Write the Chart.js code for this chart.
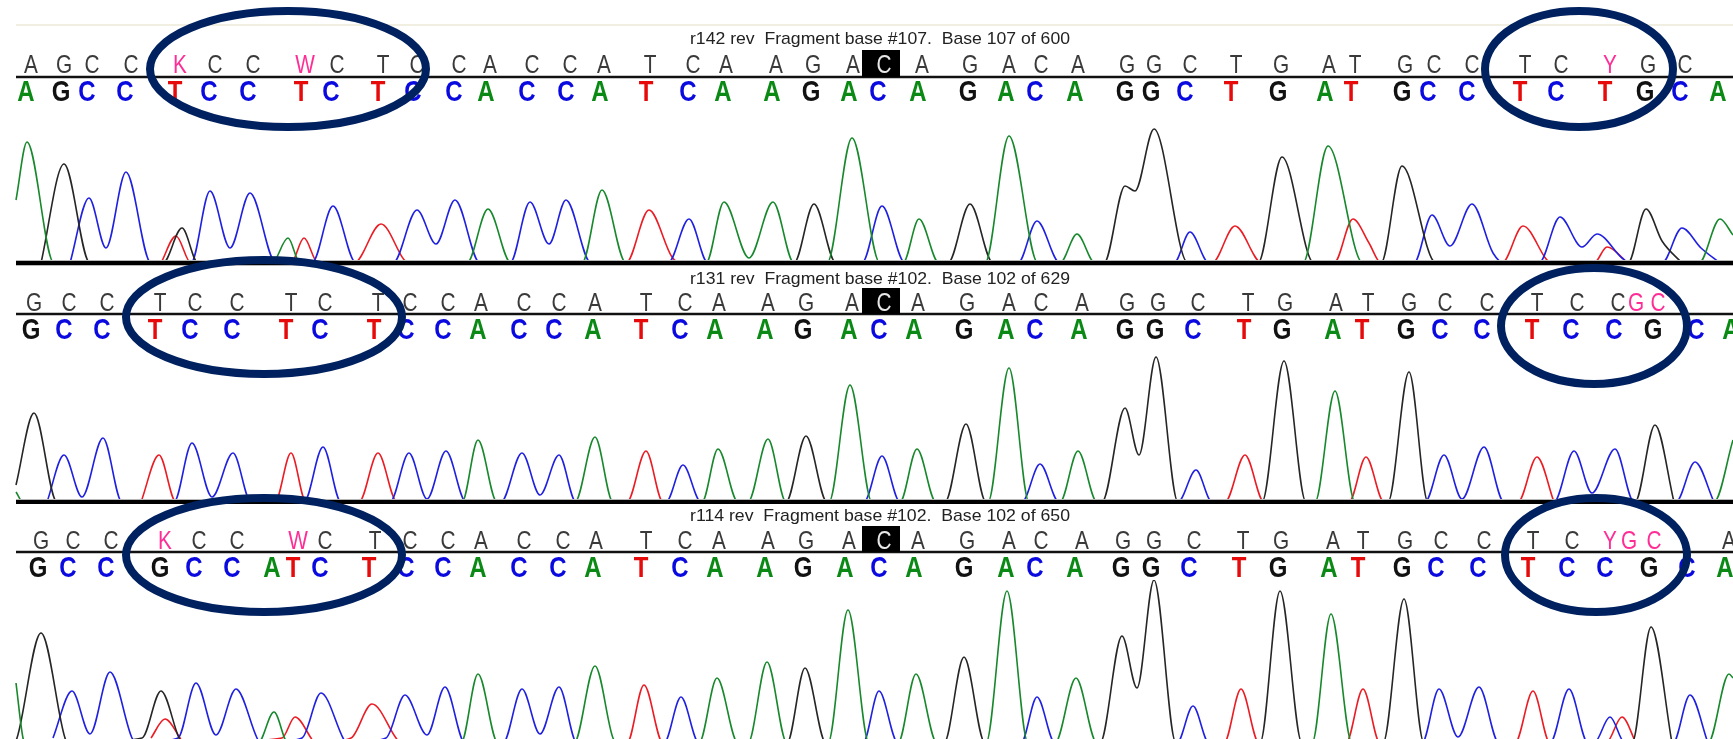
<!DOCTYPE html>
<html>
<head>
<meta charset="utf-8">
<title>Chromatograms</title>
<script src="https://cdn.jsdelivr.net/npm/chart.js@4"></script>
<style>
  html, body { margin: 0; padding: 0; background: #fff; overflow: hidden; }
  canvas { display: block; filter: blur(0.45px); }
</style>
</head>
<body>
<canvas id="traces" width="1733" height="739"></canvas>
<script>
// TRACE DATA: [scan position, signal] for each base -------------------------------

const r142A = [[16,63],[27,121],[54,0],[272,0],[288,25],[300,0],[467,0],[488,54],[511,0],[582,0],[602,73],[626,0],[706,0],[724,61],[749,5],[773,61],[794,0],[827,0],[852,125],[880,0],[903,0],[919,44],[939,0],[985,0],[1009,127],[1038,0],[1060,0],[1077,29],[1095,0],[1303,0],[1328,117],[1363,0],[1699,0],[1720,44],[1733,28]];
const r142G = [[41,0],[64,99],[90,0],[163,0],[182,35],[198,0],[794,0],[814,59],[836,0],[948,0],[970,59],[993,0],[1104,0],[1125,77],[1135,72],[1154,134],[1188,0],[1258,0],[1282,106],[1314,0],[1381,0],[1402,97],[1436,0],[1628,0],[1646,54],[1662,22],[1682,0]];
const r142C = [[70,0],[89,65],[106,15],[126,91],[151,0],[191,0],[210,72],[230,15],[250,70],[276,0],[312,0],[333,57],[356,0],[393,0],[417,53],[436,19],[455,63],[480,0],[510,0],[530,61],[549,19],[566,63],[591,0],[668,0],[689,44],[708,0],[862,0],[882,57],[905,0],[1018,0],[1037,42],[1060,0],[1174,0],[1190,31],[1209,0],[1414,0],[1432,48],[1450,17],[1472,59],[1493,10],[1504,0],[1539,0],[1560,46],[1582,16],[1597,29],[1622,5],[1630,0],[1662,0],[1682,35],[1701,15],[1720,0]];
const r142T = [[161,0],[176,27],[191,0],[291,0],[304,25],[318,0],[354,0],[381,39],[409,0],[626,0],[649,53],[672,6],[680,0],[1212,0],[1235,37],[1262,0],[1334,0],[1353,44],[1369,20],[1381,0],[1502,0],[1523,37],[1552,0],[1594,0],[1607,16],[1628,0]];

const r131A = [[16,10],[23,0],[462,0],[478,62],[497,0],[575,0],[595,65],[613,0],[702,0],[718,53],[738,0],[748,0],[768,63],[786,0],[829,0],[850,117],[872,0],[900,0],[917,53],[936,0],[988,0],[1009,134],[1029,0],[1060,0],[1078,51],[1097,0],[1315,0],[1335,111],[1355,0],[1714,0],[1733,62]];
const r131G = [[16,17],[34,89],[57,0],[786,0],[806,66],[827,0],[945,0],[966,78],[986,0],[1102,0],[1125,94],[1139,47],[1156,145],[1178,0],[1262,0],[1284,141],[1306,0],[1388,0],[1409,130],[1428,0],[1635,0],[1655,77],[1674,0]];
const r131C = [[47,0],[64,47],[82,5],[103,64],[122,0],[174,0],[192,59],[212,5],[233,49],[251,0],[304,0],[323,55],[341,0],[390,0],[409,49],[427,3],[446,51],[466,0],[501,0],[522,49],[540,7],[559,47],[576,0],[666,0],[683,37],[701,0],[864,0],[882,46],[900,0],[1022,0],[1040,38],[1059,0],[1178,0],[1196,32],[1212,0],[1425,0],[1444,47],[1462,3],[1484,55],[1504,0],[1554,0],[1574,51],[1592,9],[1615,53],[1634,0],[1676,0],[1695,40],[1714,0]];
const r131T = [[141,0],[159,47],[176,0],[275,0],[291,49],[306,0],[359,0],[378,49],[397,0],[627,0],[646,51],[663,0],[1225,0],[1245,47],[1264,0],[1349,0],[1366,45],[1384,0],[1518,0],[1537,45],[1554,0]];

const r114A = [[16,60],[23,5],[26,0],[258,0],[274,31],[288,0],[461,0],[478,69],[498,0],[574,0],[595,77],[613,5],[618,0],[699,0],[717,65],[738,0],[748,0],[767,81],[787,0],[828,0],[848,133],[869,0],[898,0],[916,69],[937,0],[986,0],[1007,152],[1028,0],[1055,0],[1076,65],[1097,0],[1312,0],[1331,129],[1352,0],[1708,0],[1729,69],[1733,65]];
const r114G = [[14,0],[17,5],[41,110],[65,5],[68,0],[142,5],[161,52],[179,5],[182,0],[787,0],[805,75],[826,0],[944,0],[964,86],[985,0],[1100,0],[1122,107],[1137,55],[1154,163],[1176,0],[1260,0],[1280,152],[1302,0],[1383,0],[1404,144],[1424,0],[1632,0],[1651,116],[1672,0]];
const r114C = [[53,5],[72,52],[90,9],[110,71],[132,5],[136,0],[178,5],[196,60],[216,8],[236,54],[257,5],[260,0],[302,5],[321,50],[343,5],[346,0],[386,5],[405,48],[427,8],[445,56],[465,0],[503,0],[522,54],[540,9],[559,56],[577,0],[664,0],[681,46],[699,0],[863,0],[879,52],[898,0],[1021,0],[1037,46],[1055,0],[1177,0],[1193,37],[1209,0],[1422,0],[1439,54],[1458,6],[1479,56],[1499,0],[1550,0],[1569,54],[1588,0],[1594,0],[1610,26],[1625,0],[1673,0],[1690,48],[1708,0]];
const r114T = [[151,5],[165,24],[180,5],[183,0],[282,5],[295,26],[311,5],[314,0],[351,5],[372,39],[396,5],[400,0],[627,0],[644,58],[663,0],[1224,0],[1241,54],[1259,0],[1346,0],[1363,54],[1380,0],[1515,0],[1533,52],[1550,0],[1606,0],[1622,26],[1636,0]];

// BASE CALLS: letters and their scan position. Lower case = edited call (pink) ---

const r142TopCalls = ["A","G","C","C","k","C","C","w","C","T","C","C","A","C","C","A","T","C","A","A","G","A","C","A","G","A","C","A","G","G","C","T","G","A","T","G","C","C","T","C","y","G","C"];
const r142TopX = [31,64,92,131,180,215,253,305,337,383,417,459,490,532,570,604,650,693,726,776,813,853,884,922,970,1009,1041,1078,1127,1154,1190,1236,1281,1329,1355,1405,1434,1472,1525,1561,1610,1648,1685];
const r142BottomCalls = ["A","G","C","C","T","C","C","T","C","T","C","C","A","C","C","A","T","C","A","A","G","A","C","A","G","A","C","A","G","G","C","T","G","A","T","G","C","C","T","C","T","G","C","A"];
const r142BottomX = [26,61,87,125,175,209,248,301,331,378,413,454,486,527,566,600,646,688,723,772,811,849,878,918,968,1006,1035,1075,1125,1151,1185,1231,1278,1325,1351,1402,1428,1467,1520,1556,1605,1645,1680,1718];

const r131TopCalls = ["G","C","C","T","C","C","T","C","T","C","C","A","C","C","A","T","C","A","A","G","A","C","A","G","A","C","A","G","G","C","T","G","A","T","G","C","C","T","C","C","g","c","A"];
const r131TopX = [34,69,107,160,195,237,291,325,378,410,448,481,524,559,595,646,685,719,768,806,852,884,918,967,1009,1041,1082,1127,1158,1198,1248,1285,1336,1368,1409,1445,1487,1537,1577,1618,1636,1658,1741];
const r131BottomCalls = ["G","C","C","T","C","C","T","C","T","C","C","A","C","C","A","T","C","A","A","G","A","C","A","G","A","C","A","G","G","C","T","G","A","T","G","C","C","T","C","C","G","C","A"];
const r131BottomX = [31,64,102,155,190,232,286,320,374,406,443,478,519,554,593,641,680,715,765,803,849,879,914,964,1006,1035,1079,1125,1155,1193,1244,1282,1333,1362,1406,1440,1482,1532,1571,1614,1653,1696,1731];

const r114TopCalls = ["G","C","C","k","C","C","w","C","T","C","C","A","C","C","A","T","C","A","A","G","A","C","A","G","A","C","A","G","G","C","T","G","A","T","G","C","C","T","C","y","g","c","A"];
const r114TopX = [41,73,111,165,199,237,298,325,375,410,448,481,524,563,596,646,685,719,768,806,849,884,918,967,1009,1041,1082,1123,1154,1194,1243,1281,1333,1363,1405,1441,1484,1533,1572,1610,1629,1654,1729];
const r114BottomCalls = ["G","C","C","G","C","C","A","T","C","T","C","C","A","C","C","A","T","C","A","A","G","A","C","A","G","A","C","A","G","G","C","T","G","A","T","G","C","C","T","C","C","G","C","A"];
const r114BottomX = [38,68,106,160,194,232,272,293,320,369,406,443,478,519,558,593,641,680,715,765,803,845,879,914,964,1006,1035,1075,1121,1151,1189,1239,1278,1329,1358,1402,1436,1478,1528,1567,1605,1649,1687,1725];

const titles = [
  "r142 rev  Fragment base #107.  Base 107 of 600",
  "r131 rev  Fragment base #102.  Base 102 of 629",
  "r114 rev  Fragment base #102.  Base 102 of 650",
];

// COLOURS / LAYOUT ---------------------------------------------------------------

const traceColors = { A: "#17882c", G: "#262626", C: "#2020e0", T: "#ea1c24" };
const callColors = { A: "#0a8a14", G: "#111111", C: "#0a0ae0", T: "#e60a0a" };
const pink = "#ff2d96";
const navy = "#00215f";

const panels = [
  { axis: "y1", base: 263, titleY: 44, topY: 73, lineY: 77, bottomY: 101, boxTop: 50,
    traces: { A: r142A, G: r142G, C: r142C, T: r142T },
    top: [r142TopCalls, r142TopX], bottom: [r142BottomCalls, r142BottomX], boxX: 884 },
  { axis: "y2", base: 502, titleY: 284, topY: 311, lineY: 314, bottomY: 339, boxTop: 288,
    traces: { A: r131A, G: r131G, C: r131C, T: r131T },
    top: [r131TopCalls, r131TopX], bottom: [r131BottomCalls, r131BottomX], boxX: 884 },
  { axis: "y3", base: 743, titleY: 521, topY: 549, lineY: 552, bottomY: 577, boxTop: 526,
    traces: { A: r114A, G: r114G, C: r114C, T: r114T },
    top: [r114TopCalls, r114TopX], bottom: [r114BottomCalls, r114BottomX], boxX: 884 },
];

// circled regions: centre and radii in page pixels
const circles = [
  [288, 69, 138, 58], [1579, 69, 94, 58],
  [264, 317, 138, 57], [1594, 326, 93, 58],
  [264, 555, 138, 57], [1596, 555, 91, 57],
];

const pageHeight = 739;
let datasets = [];
let yScales = {};

panels.forEach((p) => {
  // one pixel per signal unit, with 0 sitting on this panel's baseline
  yScales[p.axis] = { display: false, min: p.base - pageHeight, max: p.base };
  Object.keys(p.traces).forEach((b) => {
    datasets.push({
      data: p.traces[b].map((d) => ({ x: d[0], y: d[1] })),
      yAxisID: p.axis,
      borderColor: traceColors[b],
      borderWidth: 1.6,
      pointRadius: 0,
      cubicInterpolationMode: "monotone",
      fill: false,
    });
  });
});

function drawLetter(ctx, text, x, y, sx) {
  ctx.save();
  ctx.translate(x, y);
  ctx.scale(sx, 1);
  ctx.fillText(text, 0, 0);
  ctx.restore();
}

// Draws the header rows, baselines and the circles round the traces
const sequencePlugin = {
  id: "sequence",
  afterDatasetsDraw(chart) {
    const ctx = chart.ctx;
    const xs = chart.scales.x;
    const right = xs.right;
    ctx.save();

    // pale rule at the very top
    ctx.fillStyle = "#f1efe2";
    ctx.fillRect(16, 24, right - 16, 2);

    panels.forEach((p, i) => {
      // the traces may not run up into the header
      ctx.fillStyle = "#fff";
      ctx.fillRect(0, p.lineY - 48, right, 76);

      // trace baseline
      ctx.fillStyle = "#b8b8b8";
      ctx.fillRect(16, p.base - 3, right - 16, 6);
      ctx.fillStyle = "#000";
      ctx.fillRect(16, p.base - 2, right - 16, 4);

      // divider between called and edited rows
      ctx.fillStyle = "#c4c4c4";
      ctx.fillRect(16, p.lineY - 2, right - 16, 4);
      ctx.fillStyle = "#111";
      ctx.fillRect(16, p.lineY - 1, right - 16, 2);

      // cursor box
      ctx.fillStyle = "#000";
      ctx.fillRect(xs.getPixelForValue(p.boxX - 22), p.boxTop, 38, p.lineY - p.boxTop);

      ctx.textAlign = "center";
      ctx.textBaseline = "alphabetic";

      // title
      ctx.font = "17px 'Liberation Sans'";
      ctx.fillStyle = "#222";
      const w = ctx.measureText(titles[i]).width;
      drawLetter(ctx, titles[i], 880, p.titleY, 380 / w);

      // top row
      ctx.font = "26px 'Liberation Sans'";
      p.top[0].forEach((c, n) => {
        const x = xs.getPixelForValue(p.top[1][n]);
        const edited = c !== c.toUpperCase();
        ctx.fillStyle = edited ? pink : "#3a3a3a";
        if (Math.abs(p.top[1][n] - p.boxX) < 4 && c === "C") ctx.fillStyle = "#e8e8e8";
        drawLetter(ctx, c.toUpperCase(), x, p.topY, 0.8);
      });

      // bottom row
      ctx.font = "bold 30px 'Liberation Sans'";
      p.bottom[0].forEach((c, n) => {
        ctx.fillStyle = callColors[c];
        drawLetter(ctx, c, xs.getPixelForValue(p.bottom[1][n]), p.bottomY, 0.8);
      });
    });

    ctx.strokeStyle = navy;
    ctx.lineWidth = 8;
    circles.forEach((c) => {
      ctx.beginPath();
      ctx.ellipse(c[0], c[1], c[2], c[3], 0, 0, Math.PI * 2);
      ctx.stroke();
    });
    ctx.restore();
  },
};

new Chart(document.querySelector("#traces"), {
  type: "line",
  data: { datasets: datasets },
  options: {
    responsive: false,
    animation: false,
    parsing: false,
    normalized: true,
    layout: { padding: 0 },
    events: [],
    scales: Object.assign({ x: { type: "linear", display: false, min: 0, max: 1733 } }, yScales),
    plugins: { legend: { display: false }, tooltip: { enabled: false } },
  },
  plugins: [sequencePlugin],
});
</script>
</body>
</html>
